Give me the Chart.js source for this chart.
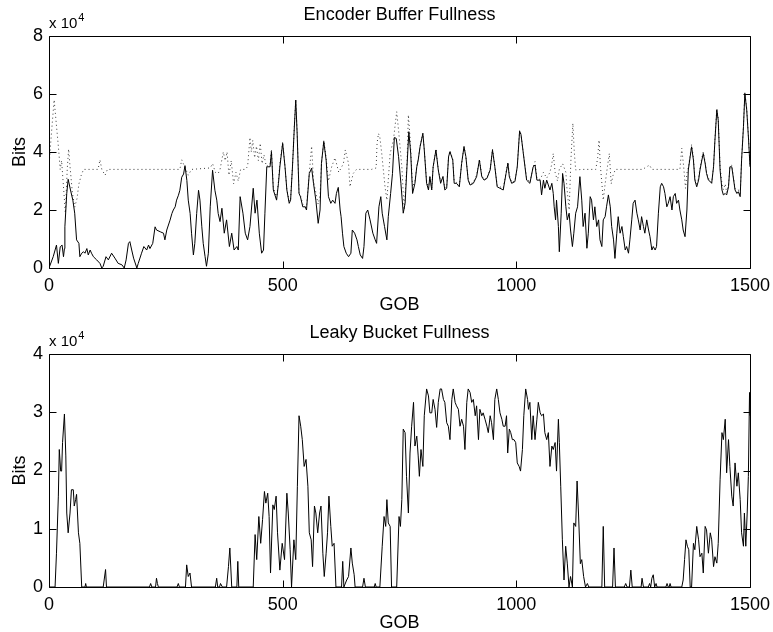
<!DOCTYPE html>
<html>
<head>
<meta charset="utf-8">
<script src="https://cdn.jsdelivr.net/npm/chart.js@4.4.1/dist/chart.umd.min.js"></script>
<style>
  html, body { margin: 0; padding: 0; background: #fff; }
  #wrap { position: relative; width: 773px; height: 632px; }
  #wrap canvas { position: absolute; left: 0; }
</style>
</head>
<body>
<div id="wrap">
  <canvas id="encoderChart" width="773" height="316" style="top:0px"></canvas>
  <canvas id="bucketChart" width="773" height="316" style="top:316px"></canvas>
</div>
<script>
// values are in units of 10^4 bits (axis shows "x 10^4")
var gobTicks = [0, 500, 1000, 1500];
var encoderTicks = [0, 2, 4, 6, 8];
var bucketTicks = [0, 1, 2, 3, 4];

// encoder buffer fullness (solid)
var encoderGob = [
  0,9,16,20,24,28,31,33,34,38,
  41,46,51,55,59,64,66,70,74,77,
  81,84,88,91,95,102,109,113,116,122,
  127,134,141,148,156,161,165,170,173,177,
  181,188,191,198,203,209,213,216,222,227,
  230,238,245,248,252,259,263,266,270,273,
  277,280,284,288,291,295,298,302,305,309,
  312,316,320,323,327,330,334,337,341,345,
  350,355,359,362,366,370,375,380,386,391,
  396,402,405,409,415,420,425,430,437,441,
  445,450,455,459,462,466,473,476,480,487,
  491,494,500,505,509,514,517,521,525,528,
  531,535,538,543,548,551,557,562,566,571,
  576,580,583,588,593,598,603,607,612,615,
  619,623,625,628,631,636,641,646,649,654,
  659,662,666,671,674,678,682,687,693,698,
  701,706,710,713,718,723,726,731,735,739,
  743,748,753,758,762,766,770,774,778,783,
  787,790,794,800,803,808,812,815,819,822,
  828,833,838,843,847,851,855,858,864,867,
  872,878,883,888,892,897,901,908,915,921,
  926,931,937,944,949,954,959,965,972,978,
  982,985,990,997,1002,1007,1010,1015,1022,1029,
  1036,1040,1044,1051,1054,1058,1061,1065,1072,1076,
  1079,1081,1084,1086,1090,1092,1096,1099,1102,1106,
  1109,1113,1116,1120,1123,1127,1131,1136,1140,1143,
  1147,1151,1154,1158,1161,1165,1168,1172,1176,1179,
  1183,1186,1190,1193,1197,1201,1204,1208,1211,1215,
  1218,1222,1226,1229,1233,1236,1240,1243,1247,1250,
  1254,1258,1261,1265,1268,1272,1275,1279,1283,1286,
  1290,1293,1297,1300,1304,1308,1311,1315,1318,1322,
  1325,1329,1333,1336,1340,1343,1347,1350,1354,1357,
  1361,1365,1368,1372,1375,1379,1382,1386,1390,1393,
  1397,1400,1404,1407,1411,1415,1418,1422,1425,1429,
  1432,1436,1440,1443,1447,1450,1454,1457,1461,1464,
  1468,1472,1475,1479,1482,1486,1489,1493,1497,1500
];
var encoderBits = [
  0,0.39,0.79,0.16,0.73,0.79,0.39,0.67,1.42,2.57,
  3.06,2.69,2.34,1.89,0.97,0.85,0.39,0.51,0.56,0.51,
  0.67,0.45,0.62,0.51,0.39,0.28,0.16,0,0.06,0.39,
  0.28,0.51,0.34,0.16,0.11,0,0.28,0.85,0.91,0.62,
  0.34,0,0.16,0.51,0.74,0.62,0.79,0.67,0.85,1.42,
  1.31,1.25,1.2,0.97,1.31,1.65,1.88,2.0,2.11,2.34,
  2.51,2.68,3.13,3.24,3.53,3.02,2.34,1.88,1.2,0.45,
  0.85,1.88,2.68,2.34,1.42,0.85,0.39,0.06,0.51,2.11,
  3.37,2.68,2.34,1.88,1.6,2.06,1.2,1.66,0.74,1.2,
  0.62,0.74,0.62,2.46,1.89,1.2,0.97,1.43,2.75,1.89,
  2.34,1.2,0.51,0.62,1.89,3.49,3.49,4.01,2.69,2.34,
  2.92,3.49,4.3,3.49,2.69,2.23,2.34,3.49,4.87,5.79,
  4.64,2.57,2.46,2.11,2.11,2.0,3.26,3.44,2.92,2.34,
  1.54,2.0,3.61,4.36,3.72,2.46,2.23,2.34,2.23,2.57,
  2.78,2.0,1.77,1.2,0.74,0.51,0.39,0.51,1.31,1.2,
  0.97,0.74,0.45,0.33,0.74,1.89,2.0,1.66,1.2,0.97,
  0.85,2.11,2.46,1.89,1.43,0.97,1.77,2.57,3.26,4.5,
  4.47,3.84,2.92,1.89,2.23,3.49,4.7,3.95,2.57,2.92,
  3.49,3.72,4.18,4.64,4.07,2.92,2.69,3.15,2.69,3.49,
  4.07,3.38,2.92,3.15,2.69,2.75,3.84,4.01,3.72,2.92,
  2.92,2.8,3.61,4.18,3.84,3.03,2.86,2.92,3.15,3.72,
  3.15,3.03,3.09,3.38,4.07,3.49,2.8,2.75,2.69,3.26,
  3.61,3.15,2.92,2.98,3.49,4.72,4.6,3.95,3.03,2.92,
  3.49,3.55,3.03,3.03,2.52,3.03,2.75,3.03,2.69,2.92,
  2.57,2.11,1.66,2.34,1.43,0.56,1.89,3.26,2.92,2.11,
  1.66,1.89,1.31,0.74,1.2,1.89,2.11,3.15,2.34,1.43,
  1.89,0.68,1.2,2.46,2.34,1.66,2.11,1.43,1.66,0.97,
  0.74,1.66,1.77,2.11,2.52,2.11,1.43,0.97,0.33,1.2,
  1.77,1.2,1.43,1.08,0.62,0.74,0.51,0.97,1.66,2.23,
  2.34,1.89,1.66,1.31,1.77,1.43,1.2,1.66,1.31,1.08,
  0.62,0.74,0.62,0.74,1.89,2.8,2.92,2.8,2.57,2.11,
  2.23,2.46,2.0,2.46,2.57,2.23,2.34,2.0,1.66,1.31,
  1.08,2.0,3.38,3.84,4.18,3.72,3.03,2.8,3.03,3.38,
  3.72,3.95,3.61,3.26,3.03,2.98,2.92,3.49,4.41,5.45,
  5.1,3.38,2.69,2.52,2.57,2.52,2.8,3.49,3.49,3.15,
  2.69,2.57,2.63,2.46,3.72,4.87,6.02,5.45,4.41,3.49
];

// second encoder buffer trace (dotted)
var dottedGob = [
  0,5,11,16,20,24,27,31,35,39,
  42,45,50,55,60,64,69,74,105,109,
  113,120,125,280,284,290,298,305,345,350,
  356,362,366,373,377,381,385,390,395,400,
  405,410,420,425,430,433,436,440,444,448,
  452,456,460,465,473,476,480,487,491,494,
  500,505,509,514,517,521,525,528,531,535,
  538,543,548,551,557,562,566,571,576,580,
  583,588,593,598,605,612,620,630,634,641,
  644,651,658,690,700,702,705,708,712,719,
  723,730,737,744,748,755,760,766,769,773,
  778,783,787,790,794,800,803,808,812,815,
  819,822,828,833,838,843,847,851,855,858,
  864,867,872,878,883,888,892,897,901,908,
  915,921,926,931,937,944,949,954,959,965,
  972,978,982,985,990,997,1002,1007,1010,1015,
  1022,1029,1036,1040,1044,1051,1058,1065,1072,1076,
  1079,1083,1088,1092,1099,1106,1108,1113,1117,1121,
  1124,1127,1140,1170,1174,1177,1180,1186,1190,1195,
  1199,1203,1207,1212,1270,1285,1290,1350,1354,1358,
  1362,1366,1368,1372,1375,1379,1382,1386,1390,1393,
  1397,1400,1404,1407,1411,1415,1418,1422,1425,1429,
  1432,1436,1440,1443,1447,1450,1454,1457,1461,1464,
  1468,1472,1475,1479,1482,1486,1489,1493,1497,1500
];
var dottedBits = [
  3.5,4.6,5.8,4.9,4.2,3.4,3.7,2.8,1.9,3.4,
  4.1,3.5,2.6,2.1,2.4,2.9,3.2,3.4,3.4,3.73,
  3.4,3.2,3.4,3.4,3.73,3.5,3.2,3.4,3.45,3.6,
  3.3,3.26,3.4,4.0,3.7,4.0,3.2,3.7,2.9,3.3,
  3.0,3.4,3.4,3.5,4.5,4.0,4.4,3.8,4.2,3.7,
  4.3,3.6,3.9,3.5,3.6,4.1,2.8,2.4,3.0,3.6,
  4.35,3.5,2.7,2.3,2.4,3.5,4.9,5.8,4.7,2.6,
  2.5,2.2,2.1,2.1,3.3,4.2,3.0,2.6,2.2,2.5,
  3.6,4.4,3.8,3.0,3.5,3.8,3.3,3.6,4.07,3.6,
  2.8,3.26,3.4,3.4,3.45,4.3,4.64,4.5,3.95,2.8,
  2.34,3.95,4.41,5.39,4.75,3.49,2.0,3.6,5.28,4.4,
  2.8,3.0,3.5,3.75,4.2,4.65,4.1,3.0,2.75,3.15,
  2.75,3.5,4.1,3.4,3.0,3.15,2.75,2.8,3.85,4.05,
  3.75,3.0,2.95,2.85,3.6,4.2,3.85,3.05,2.9,2.95,
  3.2,3.75,3.2,3.05,3.1,3.4,4.1,3.5,2.85,2.8,
  2.75,3.3,3.65,3.2,2.95,3.0,3.5,4.75,4.6,3.95,
  3.1,2.95,3.5,3.67,3.1,3.05,3.3,3.1,3.3,3.6,
  3.95,3.3,3.0,3.4,3.6,3.3,2.8,2.0,3.8,4.99,
  4.0,3.38,3.4,3.4,3.8,4.41,3.5,2.34,2.9,3.5,
  3.95,2.9,3.2,3.4,3.4,3.55,3.4,3.4,4.13,3.5,
  2.75,3.4,3.45,3.9,4.25,3.8,3.1,2.9,3.1,3.45,
  3.8,4.0,3.65,3.3,3.1,3.0,2.95,3.5,4.45,5.5,
  5.15,3.5,2.9,2.7,2.9,2.6,2.85,3.5,3.55,3.2,
  2.75,2.6,2.7,2.5,3.75,4.9,6.05,5.5,4.45,3.5
];

// leaky bucket fullness
var bucketGob = [
  0,13,16,20,22,25,27,29,33,36,
  38,41,45,48,52,54,57,59,63,66,
  70,77,78.5,80,116,121,123,215,217.5,220,
  228,230,232,234,274,276.7,279,292,294.6,298,
  301.7,305,356,358.8,361,365,367,371,380,384,
  387,391,402,404,406,437,441,444.5,449,453,
  457,461,464,468,471,474,479,482,486,489,
  494,499,504,509,512,516,519,524,528,531.5,
  535,538.6,542,546,550,554,557,561,564,568,
  571,575,579,582,586,589,593,596,599,603,
  606,610,614,626,628.5,631,637,641,646,649,
  653,655,671,674,677,696,698,700,708,713,
  717,720.5,723,726,730,733,744,749,752,755,
  758,762,765,769,772.5,776,780,783,787,790,
  792.5,796,800,803,808,812,815,819,822,826,
  829.5,833,837,840,844,847,851,854.5,858,862,
  865,869,872,876,879.5,883,887,890,894,897,
  901,904.5,908,912,915,919,922,926,929,933,
  937,940,944,947,951,954,958,961.5,965,969,
  972,976,979,981.5,985,988,991.5,995,998.6,1002,
  1006,1009,1013,1016,1020,1024,1026,1029,1033,1036,
  1040,1044,1047,1051,1054,1058,1061,1065,1068.5,1072,
  1076,1079,1083,1086,1090,1092,1095,1098.5,1102,1105.6,
  1109,1112.7,1116,1120,1123,1127,1130,1133,1137,1140,
  1144,1148,1152,1155,1183,1186,1189,1206,1209,1212,
  1231,1234,1237,1242,1245,1248,1267,1269,1272,1282.5,
  1285,1287.5,1290,1293,1296,1299,1301,1320,1322.5,1325,
  1327,1329,1331,1354,1357,1360,1363,1366,1369,1372,
  1375,1379,1382,1386,1390,1393,1397,1400,1404,1407,
  1411,1415,1418,1422,1425,1429,1432,1436,1440,1443,
  1447,1450,1454,1457,1461,1464,1468,1472,1475,1479,
  1482,1486,1488,1491,1494,1496.5,1499,1500
];
var bucketBits = [
  0,0,0.58,1.56,2.36,1.99,1.99,2.48,2.97,2.25,
  1.27,0.93,1.27,1.67,1.67,1.39,1.5,1.59,0.93,0.75,
  0,0,0.06,0,0,0.3,0,0,0.06,0,
  0,0.15,0.06,0,0,0.06,0,0,0.38,0.18,
  0.24,0,0,0.15,0,0,0.06,0,0,0.35,
  0.67,0,0,0.44,0,0,0.9,0.47,1.21,0.75,
  1.16,1.64,1.44,1.61,1.21,0.24,1.41,1.33,1.56,0.93,
  0.29,0.75,0.47,1.61,1.27,0.64,0,0.81,0.47,1.73,
  2.94,2.76,2.53,2.07,2.19,1.73,0.93,0.81,0.35,1.39,
  1.27,0.93,1.27,1.39,0.58,0.18,0.58,0.93,1.56,1.04,
  0.7,0.75,0,0,0.44,0,0.12,0.18,0.67,0.41,
  0.21,0,0,0.15,0,0,0.06,0,0,0.7,
  1.21,1.04,1.5,1.1,1.04,0,0,1.21,1.04,1.5,
  2.71,2.65,1.9,1.27,2.3,2.76,3.17,2.42,2.59,2.25,
  1.9,2.36,2.07,2.94,3.4,3.28,2.99,2.99,3.22,3.05,
  2.74,3.17,3.4,3.4,3.22,3.17,2.82,2.76,2.53,3.22,
  3.4,3.17,3.11,3.05,2.76,2.88,2.76,2.36,3.17,3.4,
  3.34,3.17,3.22,2.94,3.11,2.53,3.05,2.94,2.99,2.88,
  2.76,2.65,2.94,2.82,2.53,3.22,3.4,3.22,2.99,2.88,
  2.76,2.76,2.94,2.3,2.71,2.65,2.53,2.53,2.48,2.13,
  2.07,1.99,2.36,2.94,3.4,3.22,3.05,3.17,2.53,2.94,
  2.53,2.88,3.17,2.99,2.94,2.97,2.65,2.53,2.65,2.07,
  2.42,2.36,2.48,1.99,2.88,2.48,1.73,0.81,0.12,0.7,
  0.41,0,0.18,0,1.1,1.04,1.82,1.27,0.4,0.47,
  0.18,0,0.06,0,0,1.04,0,0,0.67,0,
  0,0.06,0,0,0.29,0,0,0.15,0,0,
  0.06,0,0.15,0.21,0,0.06,0,0,0.06,0,
  0,0.06,0,0,0.12,0.47,0.81,0.7,0.64,0,
  0,0.75,0.64,1.04,0.81,0.52,0.58,0.24,1.04,0.98,
  0.58,0.93,0.81,0.35,0.52,0.41,0.75,1.84,2.65,2.53,
  2.88,1.96,2.53,2.07,1.56,1.39,2.13,1.73,1.96,1.5,
  0.93,0.7,1.27,0.7,1.27,1.9,3.34,2.94
];

var FONT = '"Liberation Sans", Arial, Helvetica, sans-serif';

function toPoints(xs, ys) {
  return xs.map(function (g, i) { return { x: g, y: ys[i] }; });
}

// matlab style box, inward ticks on all four sides and the "x 10^4" multiplier
const boxPlugin = {
  id: 'boxPlugin',
  afterDraw(chart) {
    const { ctx, chartArea: { left, right, top, bottom }, scales: { x, y } } = chart;
    const L = Math.round(left) + 0.5, R = Math.round(right) + 0.5;
    const T = Math.round(top) + 0.5, B = Math.round(bottom) + 0.5;
    const tl = 7;
    ctx.save();
    ctx.strokeStyle = '#000';
    ctx.lineWidth = 1;
    ctx.beginPath();
    ctx.rect(L, T, R - L, B - T);
    x.ticks.forEach(function (t) {
      const px = Math.round(x.getPixelForValue(t.value)) + 0.5;
      ctx.moveTo(px, B); ctx.lineTo(px, B - tl);
      ctx.moveTo(px, T); ctx.lineTo(px, T + tl);
    });
    y.ticks.forEach(function (t) {
      const py = Math.round(y.getPixelForValue(t.value)) + 0.5;
      ctx.moveTo(L, py); ctx.lineTo(L + tl, py);
      ctx.moveTo(R, py); ctx.lineTo(R - tl, py);
    });
    ctx.stroke();

    ctx.fillStyle = '#000';
    ctx.textAlign = 'left';
    ctx.textBaseline = 'alphabetic';
    ctx.font = '15px ' + FONT;
    ctx.fillText('x 10', left, top - 8);
    const w = ctx.measureText('x 10').width;
    ctx.font = '11px ' + FONT;
    ctx.fillText('4', left + w + 1, top - 15);
    ctx.restore();
  }
};

function plainLabel(v) { return String(v); }

function makeChart(id, opt) {
  const ctx = document.getElementById(id).getContext('2d');
  return new Chart(ctx, {
    type: 'line',
    data: { datasets: opt.datasets },
    options: {
      responsive: false,
      animation: false,
      devicePixelRatio: 1,
      layout: { padding: { left: 0, right: 23, top: 0, bottom: 0 } },
      elements: { point: { radius: 0 }, line: { tension: 0 } },
      plugins: {
        legend: { display: false },
        tooltip: { enabled: false },
        title: {
          display: true,
          text: opt.title,
          fullSize: false,
          color: '#000',
          font: { family: FONT, size: 18, weight: 'normal', lineHeight: 1.2 },
          padding: opt.titlePad
        }
      },
      scales: {
        x: {
          type: 'linear',
          min: 0,
          max: 1500,
          afterBuildTicks: function (s) { s.ticks = gobTicks.map(function (v) { return { value: v }; }); },
          afterFit: function (s) {
            s.height = opt.xHeight;
            s.paddingLeft = 0;
            s.paddingRight = 0;
          },
          grid: { display: false, drawTicks: false },
          border: { display: false },
          ticks: { color: '#000', padding: 7, maxRotation: 0, autoSkip: false,
                   callback: plainLabel,
                   font: { family: FONT, size: 18 } },
          title: { display: true, text: 'GOB', color: '#000',
                   font: { family: FONT, size: 18, lineHeight: 1 },
                   padding: { top: 0, bottom: opt.gobPad } }
        },
        y: {
          min: 0,
          max: opt.yTicks[opt.yTicks.length - 1],
          afterBuildTicks: function (s) { s.ticks = opt.yTicks.map(function (v) { return { value: v }; }); },
          afterFit: function (s) {
            s.width = 49;
            s.paddingTop = 0;
            s.paddingBottom = 0;
          },
          grid: { display: false, drawTicks: false },
          border: { display: false },
          ticks: { color: '#000', padding: 6, callback: plainLabel,
                   font: { family: FONT, size: 18 } },
          title: { display: true, text: 'Bits', color: '#000',
                   font: { family: FONT, size: 18, lineHeight: 1 },
                   padding: { top: 11, bottom: 0 } }
        }
      }
    },
    plugins: [boxPlugin]
  });
}

makeChart('encoderChart', {
  title: 'Encoder Buffer Fullness',
  titlePad: { top: 4, bottom: 10.4 },
  xHeight: 48,
  gobPad: 2,
  yTicks: encoderTicks,
  datasets: [
    {
      data: toPoints(encoderGob, encoderBits),
      borderColor: '#000',
      borderWidth: 1,
      borderJoinStyle: 'round'
    },
    {
      data: toPoints(dottedGob, dottedBits),
      borderColor: '#3a3a3a',
      borderWidth: 1,
      borderDash: [1, 3]
    }
  ]
});

makeChart('bucketChart', {
  title: 'Leaky Bucket Fullness',
  titlePad: { top: 6.2, bottom: 10.2 },
  xHeight: 45,
  gobPad: 0,
  yTicks: bucketTicks,
  datasets: [
    {
      data: toPoints(bucketGob, bucketBits),
      borderColor: '#000',
      borderWidth: 1,
      borderJoinStyle: 'round'
    }
  ]
});
</script>
</body>
</html>
